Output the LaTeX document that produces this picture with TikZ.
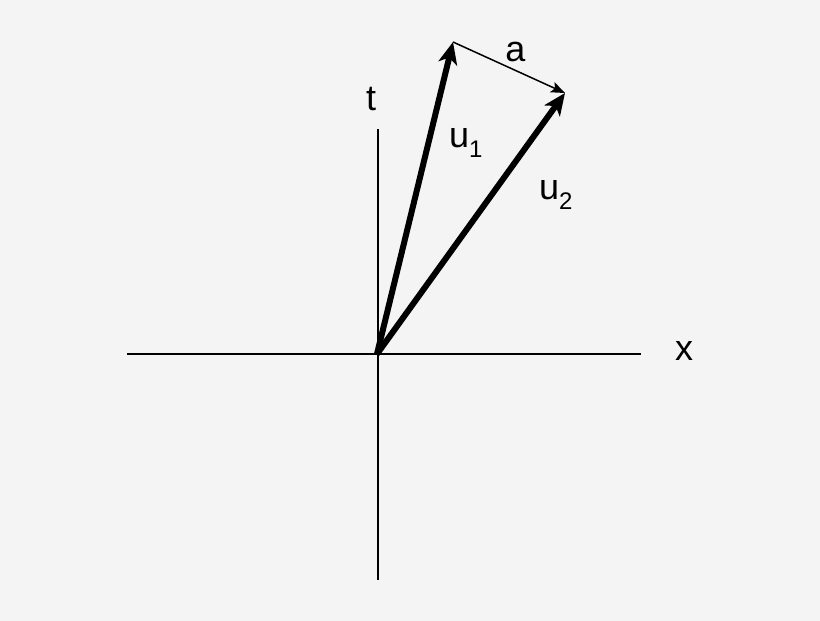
\documentclass[tikz,border=0pt]{standalone}
\usepackage{fontspec}
\setmainfont{Liberation Sans}
\usetikzlibrary{arrows.meta}
\definecolor{bg}{HTML}{F4F4F4}
\tikzset{
  axis/.style={line width=2pt, black},
  vec/.style={line width=6pt, black, -{Stealth[length=22pt,width=19pt,inset=6pt]}},
  thinvec/.style={line width=1.5pt, black, -{Stealth[length=14pt,width=11pt,inset=3pt]}},
  lbl/.style={inner sep=0pt, anchor=base, font=\fontsize{36}{40}\selectfont},
  lblw/.style={inner sep=0pt, anchor=base west, font=\fontsize{36}{40}\selectfont}
}
\newcommand{\mysub}[1]{\raisebox{-10pt}{\fontsize{24}{24}\selectfont #1}}
\begin{document}
\begin{tikzpicture}[x=1pt,y=1pt]
\fill[bg] (0,0) rectangle (820,621);
\useasboundingbox (0,0) rectangle (820,621);
\coordinate (O) at (377,267);
\coordinate (L) at (127,267);
\coordinate (R) at (641,267);
\coordinate (T) at (378,492);
\coordinate (B) at (378,41);
\coordinate (A1) at (453,579);
\coordinate (A2) at (565,528);
\draw[axis] (L) -- (R);
\draw[axis] (B) -- (T);
\draw[thinvec] (A1) -- (A2);
\draw[vec] (O) -- (A1);
\draw[vec] (O) -- (A2);
\node[lbl] (tl) at (371,510) {t};
\node[lbl] (xl) at (684,260.5) {x};
\node[lbl] (al) at (515.5,559) {a};
\node[lblw] (u1) at (449,473) {u\mysub{1}};
\node[lblw] (u2) at (539,421) {u\mysub{2}};
\end{tikzpicture}
\end{document}
